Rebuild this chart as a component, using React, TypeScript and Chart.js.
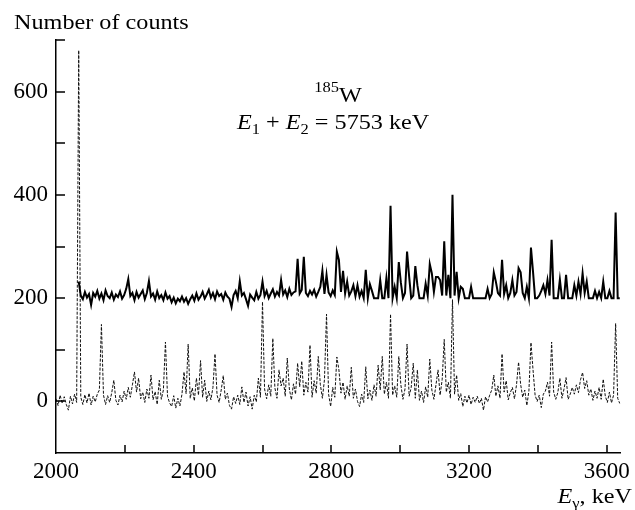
import React, { useEffect, useRef } from "react";
import { Chart, registerables } from "chart.js";

Chart.register(...registerables);

// Energy grid (keV): channel start and width
const ENERGY_START = 2000;
const ENERGY_STEP = 6;
const SOLID_START = 2066;

// Upper spectrum (solid, shifted by +200)
const solidCounts: number[] = [
  232, 205, 198, 212, 201, 208, 187, 210, 203, 214,
  199, 209, 196, 215, 204, 200, 211, 197, 207, 202,
  213, 199, 206, 218, 237, 204, 210, 196, 212, 201,
  208, 215, 198, 210, 233, 203, 209, 197, 213, 200,
  206, 196, 211, 199, 204, 192, 201, 190, 199, 194,
  203, 193, 200, 189, 198, 205, 195, 209, 197, 203,
  212, 199, 207, 216, 201, 210, 198, 213, 204, 208,
  197, 211, 203, 199, 183, 206, 214, 200, 233, 205,
  210, 198, 185, 207, 201, 196, 212, 199, 206, 232,
  204, 214, 200, 209, 217, 203, 212, 205, 235, 207,
  215, 202, 218, 206, 211, 213, 276, 209, 216, 280,
  210, 204, 214, 207, 216, 203, 212, 222, 253, 208,
  245, 211, 204, 215, 206, 290, 274, 212, 253, 209,
  232, 205, 213, 225, 204, 225, 203, 214, 200, 255,
  200, 227, 214, 200, 200, 200, 235, 200, 200, 239,
  200, 379, 200, 222, 200, 270, 230, 200, 210, 290,
  242, 200, 205, 262, 225, 200, 200, 200, 228, 205,
  266, 248, 212, 241, 241, 235, 205, 310, 205, 245,
  200, 400, 205, 251, 200, 222, 218, 200, 200, 200,
  222, 200, 200, 200, 200, 200, 200, 200, 218, 200,
  208, 250, 232, 210, 205, 274, 208, 225, 200, 210,
  235, 205, 212, 258, 250, 210, 200, 222, 200, 298,
  251, 200, 200, 205, 214, 225, 208, 235, 205, 313,
  200, 200, 200, 236, 200, 200, 245, 200, 200, 200,
  225, 205, 232, 208, 248, 210, 232, 200, 200, 200,
  214, 200, 212, 200, 232, 200, 200, 214, 200, 200,
  366, 200, 200,
];

// Lower spectrum (dashed)
const dashedCounts: number[] = [
  5, -8, 12, -4, 9, -6, -17, 10, -5, 14,
  -2, 680, 8, -6, 13, -3, 16, -7, 10, -1,
  14, 22, 149, 12, -6, 11, -2, 17, 41, 2,
  -7, 12, -1, 20, 4, 27, 8, 32, 57, 18,
  45, 5, 18, -2, 24, 6, 51, 3, 19, -6,
  41, 4, 22, 115, 10, -3, -10, 11, -13, 6,
  -9, 14, 57, 15, 111, 6, 26, 1, 45, 12,
  79, 8, 41, 0, 20, 3, 27, 92, 12, -2,
  22, 50, 4, 16, -8, -15, 9, -4, 12, -6,
  28, -2, 18, -9, 9, -15, 12, -1, 45, 8,
  193, 24, 5, 32, 10, 122, 26, 6, 61, 30,
  45, 10, 84, 24, 3, 34, 14, 74, 28, 78,
  12, 37, 18, 109, 8, 40, 16, 87, 33, 6,
  42, 169, 14, -10, 27, 8, 86, 61, 16, 37,
  4, 30, 10, 66, 6, 24, 0, -10, 14, -2,
  67, 5, 22, 2, 32, 10, 70, 22, 87, 14,
  37, 6, 169, 12, 30, 8, 87, 32, 4, 24,
  111, 10, 27, 74, 6, 61, 2, 20, -2, 28,
  8, 82, 22, 4, 32, 61, 12, 42, 120, 18,
  37, 6, 197, 14, 51, 2, 15, -10, 10, -3,
  12, -6, 8, -2, 10, -4, 6, -17, 9, -1,
  12, 22, 51, 10, 30, 6, 92, 18, 40, 3,
  17, 27, 5, 32, 76, 33, 8, 22, -8, 20,
  114, 61, 12, 0, 12, -12, 14, 20, 37, 10,
  115, 18, 4, 17, 45, 6, 24, 46, 4, 14,
  27, 14, 32, 17, 42, 56, 25, 40, 12, 24,
  2, 20, 6, 27, 4, 43, 10, -2, 18, -3,
  12, 151, 6, -4,
];

// Axes
const X_MIN = 2000;
const X_MAX = 3640;
const xTickValues = [2000, 2200, 2400, 2600, 2800, 3000, 3200, 3400, 3600];
const xTickLabels = ["2000", "", "2400", "", "2800", "", "3200", "", "3600"];
const Y_MIN = -100;
const Y_MAX = 700;
const yTickValues = [-100, 0, 100, 200, 300, 400, 500, 600, 700];
const yTickLabels = ["", "0", "", "200", "", "400", "", "600", ""];

const SERIF = "'Liberation Serif', 'Times New Roman', serif";
const STRETCH = 1.1;

type Run = { text: string; font: string; dy?: number; w?: number };

function drawRuns(
  ctx: CanvasRenderingContext2D,
  runs: Run[],
  x: number,
  y: number,
  align: "left" | "center" | "right"
) {
  let total = 0;
  for (const r of runs) {
    ctx.font = r.font;
    r.w = ctx.measureText(r.text).width;
    total += r.w;
  }
  const start =
    align === "left" ? x : align === "right" ? x - total * STRETCH : x - (total * STRETCH) / 2;
  ctx.save();
  ctx.translate(start, y);
  ctx.scale(STRETCH, 1);
  ctx.textAlign = "left";
  ctx.textBaseline = "alphabetic";
  ctx.fillStyle = "#000";
  let cx = 0;
  for (const r of runs) {
    ctx.font = r.font;
    ctx.fillText(r.text, cx, r.dy || 0);
    cx += r.w || 0;
  }
  ctx.restore();
}

const big = `22px ${SERIF}`;
const bigItalic = `italic 22px ${SERIF}`;
const small = `15px ${SERIF}`;

const inwardTicks = {
  id: "inwardTicks",
  afterDraw(chart: any) {
    const ctx = chart.ctx as CanvasRenderingContext2D;
    const { left, bottom } = chart.chartArea;
    const xs = chart.scales.x;
    const ys = chart.scales.y;
    ctx.save();
    ctx.strokeStyle = "#000";
    ctx.lineWidth = 1.5;
    ctx.beginPath();
    for (const v of xTickValues) {
      if (v <= X_MIN) continue;
      const px = Math.round(xs.getPixelForValue(v));
      ctx.moveTo(px, bottom);
      ctx.lineTo(px, bottom - 8);
    }
    for (const v of yTickValues) {
      if (v <= Y_MIN) continue;
      const py = Math.round(ys.getPixelForValue(v));
      ctx.moveTo(left, py);
      ctx.lineTo(left + 9, py);
    }
    ctx.stroke();
    ctx.restore();

    // Texts
    drawRuns(ctx, [{ text: "Number of counts", font: big }], 14, 29, "left");
    drawRuns(
      ctx,
      [
        { text: "185", font: small, dy: -10 },
        { text: "W", font: big },
      ],
      338,
      102,
      "center"
    );
    drawRuns(
      ctx,
      [
        { text: "E", font: bigItalic },
        { text: "1", font: small, dy: 5 },
        { text: " + ", font: big },
        { text: "E", font: bigItalic },
        { text: "2", font: small, dy: 5 },
        { text: " = 5753 keV", font: big },
      ],
      237,
      129,
      "left"
    );
    drawRuns(
      ctx,
      [
        { text: "E", font: bigItalic },
        { text: "γ", font: small, dy: 5 },
        { text: ", keV", font: big },
      ],
      632,
      503,
      "right"
    );
  },
};

export default function App() {
  const ref = useRef<HTMLCanvasElement | null>(null);

  useEffect(() => {
    let chart: Chart | null = null;
    let cancelled = false;

    const build = () => {
      if (cancelled || !ref.current) return;
      const solidData = solidCounts.map((v, i) => ({ x: SOLID_START + i * ENERGY_STEP, y: v }));
      const dashedData = dashedCounts.map((v, i) => ({ x: ENERGY_START + i * ENERGY_STEP, y: v }));

      chart = new Chart(ref.current, {
        type: "line",
        data: {
          datasets: [
            {
              label: "E1+E2=5753 keV",
              data: solidData,
              borderColor: "#000",
              borderWidth: 2,
              pointRadius: 0,
              tension: 0,
              fill: false,
            },
            {
              label: "total",
              data: dashedData,
              borderColor: "#111",
              borderWidth: 1,
              borderDash: [3, 1.5],
              pointRadius: 0,
              tension: 0,
              fill: false,
            },
          ],
        },
        options: {
          animation: false,
          responsive: false,
          devicePixelRatio: 1,
          layout: { padding: { left: 0, right: 13, top: 40, bottom: 0 } },
          plugins: { legend: { display: false }, tooltip: { enabled: false } },
          scales: {
            x: {
              type: "linear",
              min: X_MIN,
              max: X_MAX,
              grid: { display: false, drawTicks: false },
              border: { display: true, color: "#000", width: 1.5 },
              afterBuildTicks: (s: any) => {
                s.ticks = xTickValues.map((v) => ({ value: v }));
              },
              ticks: {
                autoSkip: false,
                maxRotation: 0,
                padding: 5,
                color: "#000",
                font: { family: SERIF, size: 23 },
                callback: (_v: any, i: number) => xTickLabels[i] ?? "",
              },
              afterFit: (s: any) => {
                s.height = 57;
              },
            },
            y: {
              type: "linear",
              min: Y_MIN,
              max: Y_MAX,
              grid: { display: false, drawTicks: false },
              border: { display: true, color: "#000", width: 1.5 },
              afterBuildTicks: (s: any) => {
                s.ticks = yTickValues.map((v) => ({ value: v }));
              },
              ticks: {
                autoSkip: false,
                padding: 8,
                color: "#000",
                font: { family: SERIF, size: 23 },
                callback: (_v: any, i: number) => yTickLabels[i] ?? "",
              },
              afterFit: (s: any) => {
                s.width = 56;
              },
            },
          },
        },
        plugins: [inwardTicks],
      });
    };

    const fonts = (document as any).fonts;
    if (fonts && fonts.load) {
      Promise.all([
        fonts.load(`22px "Liberation Serif"`),
        fonts.load(`italic 22px "Liberation Serif"`),
      ])
        .catch(() => null)
        .then(build);
    } else {
      build();
    }

    return () => {
      cancelled = true;
      if (chart) chart.destroy();
    };
  }, []);

  return (
    <div style={{ position: "absolute", left: 0, top: 0, width: 635, height: 510, background: "#fff" }}>
      <canvas ref={ref} width={635} height={510} style={{ display: "block", width: 635, height: 510 }} />
    </div>
  );
}
